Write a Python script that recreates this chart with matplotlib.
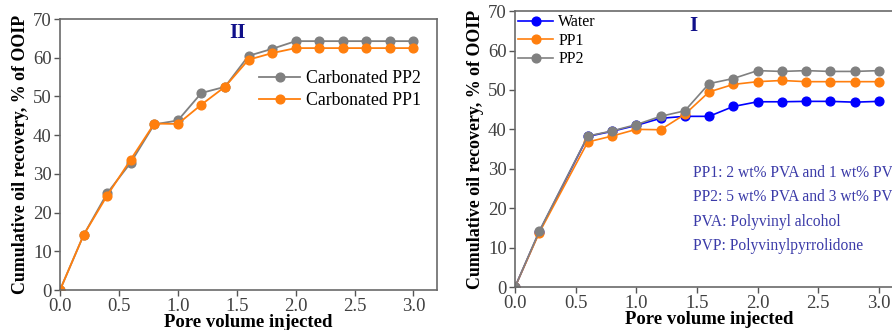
import matplotlib
matplotlib.use("Agg")
import matplotlib.pyplot as plt

plt.rcParams['font.family'] = ['Liberation Serif', 'DejaVu Serif']

# Panel II (left)
pv_left = [0.0, 0.2, 0.4, 0.6, 0.8, 1.0, 1.2, 1.4, 1.6, 1.8, 2.0, 2.2, 2.4, 2.6, 2.8, 3.0]
carb_pp2 = [0.0, 14.2, 25.0, 32.9, 42.8, 43.8, 50.9, 52.5, 60.5, 62.3, 64.3, 64.3, 64.3, 64.3, 64.3, 64.3]
carb_pp1 = [0.0, 14.2, 24.4, 33.7, 43.0, 42.9, 47.9, 52.5, 59.5, 61.2, 62.5, 62.5, 62.5, 62.5, 62.5, 62.5]

# Panel I (right)
pv_right = [0.0, 0.2, 0.6, 0.8, 1.0, 1.2, 1.4, 1.6, 1.8, 2.0, 2.2, 2.4, 2.6, 2.8, 3.0]
water = [0.0, 14.0, 38.2, 39.5, 41.0, 42.8, 43.3, 43.3, 45.8, 47.0, 47.0, 47.1, 47.1, 46.9, 47.1]
pp1 = [0.0, 13.8, 36.8, 38.3, 40.0, 39.9, 43.8, 49.5, 51.4, 52.1, 52.4, 52.1, 52.1, 52.1, 52.1]
pp2 = [0.0, 14.2, 38.3, 39.6, 41.2, 43.3, 44.7, 51.6, 52.9, 54.9, 54.7, 54.9, 54.7, 54.7, 54.9]

notes = ["PP1: 2 wt% PVA and 1 wt% PVP",
         "PP2: 5 wt% PVA and 3 wt% PVP",
         "PVA: Polyvinyl alcohol",
         "PVP: Polyvinylpyrrolidone"]

xticks = [0.0, 0.5, 1.0, 1.5, 2.0, 2.5, 3.0]
yticks = [0, 10, 20, 30, 40, 50, 60, 70]

ORANGE = '#ff7f0e'
GRAY = '#808080'
BLUE = '#0000ff'
NAVY = '#10108a'
NOTE = '#3a3aa8'
TICKC = '#404040'

fig = plt.figure(figsize=(8.92, 3.30), dpi=100)
axL = fig.add_axes([0.0673, 0.1212, 0.4226, 0.821])
axR = fig.add_axes([0.5774, 0.1303, 0.435, 0.836])

def style(ax):
    ax.set_xlim(0, 3.2)
    ax.set_ylim(0, 70)
    ax.set_xticks(xticks)
    ax.set_xticklabels([f"{t:.1f}" for t in xticks])
    ax.set_yticks(yticks)
    ax.tick_params(direction='out', length=4, width=1, colors='#555555',
                   labelcolor=TICKC, labelsize=13.5, pad=2)
    for s in ax.spines.values():
        s.set_color('#6a6a6a')
        s.set_linewidth(1.2)
    ax.set_xlabel("Pore volume injected", fontsize=13.5, fontweight='bold', labelpad=-1)
    ax.set_ylabel("Cumulative oil recovery, % of OOIP", fontsize=12.9, fontweight='bold', labelpad=3)

ms = 6.3
axL.plot(pv_left, carb_pp2, color=GRAY, marker='o', ms=ms, lw=1.3, label='Carbonated PP2')
axL.plot(pv_left, carb_pp1, color=ORANGE, marker='o', ms=ms, lw=1.3, label='Carbonated PP1')
style(axL)
axL.legend(loc='upper right', bbox_to_anchor=(0.985, 0.85), frameon=False, fontsize=12.8,
           handlelength=2.3, handletextpad=0.3, labelspacing=0.25, borderaxespad=0.2)
axL.text(0.47, 0.948, "II", transform=axL.transAxes, color=NAVY, fontsize=15,
         fontweight='bold', ha='center', va='center')

axR.plot(pv_right, water, color=BLUE, marker='o', ms=ms, lw=1.2, label='Water')
axR.plot(pv_right, pp1, color=ORANGE, marker='o', ms=ms, lw=1.2, label='PP1')
axR.plot(pv_right, pp2, color=GRAY, marker='o', ms=ms, lw=1.2, label='PP2')
style(axR)
axR.legend(loc='upper left', frameon=False, fontsize=11.5, handlelength=2.2,
           handletextpad=0.3, labelspacing=0.15, borderaxespad=0.0, borderpad=0.2)
axR.text(0.46, 0.945, "I", transform=axR.transAxes, color=NAVY, fontsize=15,
         fontweight='bold', ha='center', va='center')
for i, t in enumerate(notes):
    axR.text(0.458, 0.412 - i * 0.0875, t, transform=axR.transAxes, color=NOTE,
             fontsize=11.2, ha='left', va='center')

fig.savefig("out.png", dpi=100)
